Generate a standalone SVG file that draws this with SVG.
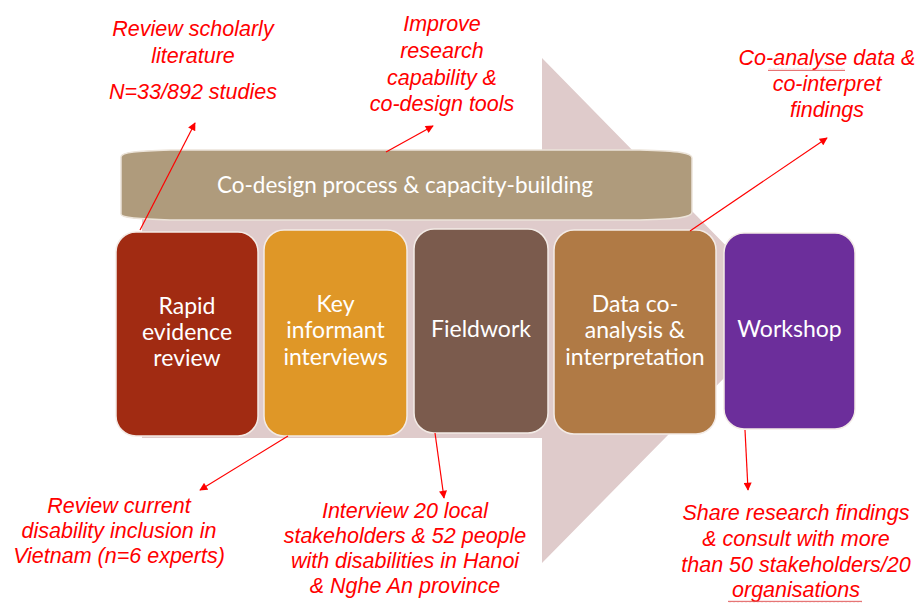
<svg xmlns="http://www.w3.org/2000/svg" width="920" height="604" viewBox="0 0 920 604">
  <defs>
    <style>
      .stage { stroke: #f3ebe6; stroke-width: 1.5; }
      .stage-label { font-family: Lato, "Open Sans", "DejaVu Sans", sans-serif; font-size: 23px; fill: #ffffff; text-anchor: middle; }
      .band-label { font-family: Lato, "Open Sans", "DejaVu Sans", sans-serif; font-size: 22.5px; fill: #ffffff; text-anchor: middle; }
      .note { font-family: "Liberation Sans", Arial, sans-serif; font-style: italic; font-size: 21.5px; fill: #ff0000; text-anchor: middle; }
      .link { stroke: #ff0000; stroke-width: 1.2; fill: none; marker-end: url(#tip); }
    </style>
    <marker id="tip" viewBox="0 0 10 10" refX="9" refY="5" markerWidth="9" markerHeight="8" markerUnits="userSpaceOnUse" orient="auto">
      <path d="M0,0 L10,5 L0,10 Z" fill="#ff0000"/>
    </marker>
    <pattern id="squiggle" width="4" height="3" patternUnits="userSpaceOnUse">
      <path d="M0,2.2 L1,0.8 L2,2.2 L3,0.8 L4,2.2" stroke="#e05050" stroke-width="0.8" fill="none"/>
    </pattern>
  </defs>

  <!-- large background process arrow -->
  <g id="process-arrow">
    <path d="M142,200 L542,200 L542,58 L790,311 L542,563 L542,438 L142,438 Z" fill="#dfcbcb"/>
  </g>

  <!-- co-design band across the top of the stages -->
  <g id="codesign-band">
    <path d="M121,157 C121,152 138,151 170,150 L640,150 C680,151 692,153 692,158 L692,212 C692,217 680,219 640,220 L170,220 C138,219 121,218 121,214 Z" fill="#af9b7c" stroke="#ece4da" stroke-width="1.5"/>
    <text class="band-label" x="405" y="193">Co-design process &amp; capacity-building</text>
  </g>

  <!-- stages -->
  <g id="stage-review">
    <rect class="stage" x="116" y="232" width="142" height="204" rx="20" fill="#a12b12"/>
    <text class="stage-label" x="187" y="314">Rapid</text>
    <text class="stage-label" x="187" y="340">evidence</text>
    <text class="stage-label" x="187" y="366">review</text>
  </g>
  <g id="stage-interviews">
    <rect class="stage" x="264" y="230" width="143" height="206" rx="20" fill="#df9727"/>
    <text class="stage-label" x="335.5" y="312">Key</text>
    <text class="stage-label" x="335.5" y="338">informant</text>
    <text class="stage-label" x="335.5" y="365">interviews</text>
  </g>
  <g id="stage-fieldwork">
    <rect class="stage" x="414" y="229" width="134" height="204" rx="20" fill="#7b5b4d"/>
    <text class="stage-label" x="481" y="337">Fieldwork</text>
  </g>
  <g id="stage-analysis">
    <rect class="stage" x="554" y="230" width="162" height="204" rx="20" fill="#b07a45"/>
    <text class="stage-label" x="635" y="312">Data co-</text>
    <text class="stage-label" x="635" y="338">analysis &amp;</text>
    <text class="stage-label" x="635" y="365">interpretation</text>
  </g>
  <g id="stage-workshop">
    <rect class="stage" x="724" y="233" width="131" height="196" rx="20" fill="#6c2e9b"/>
    <text class="stage-label" x="789.5" y="337">Workshop</text>
  </g>

  <!-- callout notes -->
  <g id="note-literature">
    <text class="note" x="193" y="36">Review scholarly</text>
    <text class="note" x="193" y="63">literature</text>
    <text class="note" x="193" y="99">N=33/892 studies</text>
  </g>
  <g id="note-capability">
    <text class="note" x="442" y="31">Improve</text>
    <text class="note" x="442" y="58">research</text>
    <text class="note" x="442" y="85">capability &amp;</text>
    <text class="note" x="442" y="111">co-design tools</text>
  </g>
  <g id="note-coanalyse">
    <text class="note" x="827" y="65">Co-analyse data &amp;</text>
    <text class="note" x="827" y="91">co-interpret</text>
    <text class="note" x="827" y="117">findings</text>
    <rect x="768" y="68" width="77" height="3" fill="url(#squiggle)"/>
  </g>
  <g id="note-experts">
    <text class="note" x="119" y="513">Review current</text>
    <text class="note" x="119" y="538">disability inclusion in</text>
    <text class="note" x="119" y="563">Vietnam (n=6 experts)</text>
  </g>
  <g id="note-fieldwork">
    <text class="note" x="405" y="518">Interview 20 local</text>
    <text class="note" x="405" y="543">stakeholders &amp; 52 people</text>
    <text class="note" x="405" y="568">with disabilities in Hanoi</text>
    <text class="note" x="405" y="593">&amp; Nghe An province</text>
  </g>
  <g id="note-workshop">
    <text class="note" x="796" y="520">Share research findings</text>
    <text class="note" x="796" y="546">&amp; consult with more</text>
    <text class="note" x="796" y="572">than 50 stakeholders/20</text>
    <text class="note" x="796" y="597">organisations</text>
    <rect x="728" y="600" width="134" height="3" fill="url(#squiggle)"/>
  </g>

  <!-- connectors from stages to their notes -->
  <g id="connectors">
    <line class="link" x1="140" y1="230" x2="195" y2="123"/>
    <line class="link" x1="386" y1="152" x2="433" y2="126"/>
    <line class="link" x1="690" y1="231" x2="827" y2="138"/>
    <line class="link" x1="288" y1="436" x2="200" y2="490"/>
    <line class="link" x1="435" y1="433" x2="444" y2="498"/>
    <line class="link" x1="745" y1="430" x2="748" y2="490"/>
  </g>
</svg>
